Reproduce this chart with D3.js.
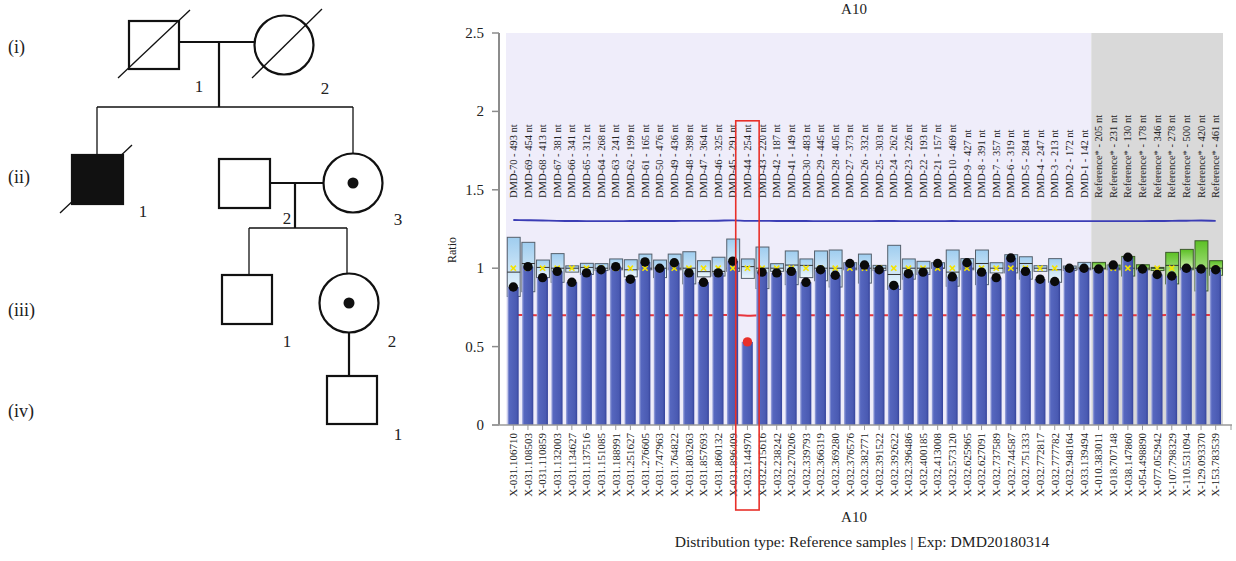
<!DOCTYPE html>
<html><head><meta charset="utf-8">
<script src="https://cdn.jsdelivr.net/npm/d3@7"></script>
<style>body{margin:0;background:#fff;} svg{display:block;font-family:"Liberation Serif","Times New Roman",serif;}</style>
</head><body><svg id="c" width="1236" height="561"></svg>
<script>
// ---------------- DATA ----------------
const probes = ["DMD-70 - 493 nt","DMD-69 - 454 nt","DMD-68 - 413 nt","DMD-67 - 381 nt","DMD-66 - 341 nt","DMD-65 - 312 nt","DMD-64 - 268 nt","DMD-63 - 241 nt","DMD-62 - 199 nt","DMD-61 - 165 nt","DMD-50 - 476 nt","DMD-49 - 436 nt","DMD-48 - 398 nt","DMD-47 - 364 nt","DMD-46 - 325 nt","DMD-45 - 291 nt","DMD-44 - 254 nt","DMD-43 - 220 nt","DMD-42 - 187 nt","DMD-41 - 149 nt","DMD-30 - 483 nt","DMD-29 - 445 nt","DMD-28 - 405 nt","DMD-27 - 373 nt","DMD-26 - 332 nt","DMD-25 - 303 nt","DMD-24 - 262 nt","DMD-23 - 226 nt","DMD-22 - 193 nt","DMD-21 - 157 nt","DMD-10 - 469 nt","DMD-9 - 427 nt","DMD-8 - 391 nt","DMD-7 - 357 nt","DMD-6 - 319 nt","DMD-5 - 284 nt","DMD-4 - 247 nt","DMD-3 - 213 nt","DMD-2 - 172 nt","DMD-1 - 142 nt","Reference* - 205 nt","Reference* - 231 nt","Reference* - 130 nt","Reference* - 178 nt","Reference* - 346 nt","Reference* - 278 nt","Reference* - 500 nt","Reference* - 420 nt","Reference* - 461 nt"];
const positions = ["X-031.106710","X-031.108503","X-031.110859","X-031.132003","X-031.134627","X-031.137516","X-031.151085","X-031.188991","X-031.251627","X-031.276605","X-031.747963","X-031.764822","X-031.803263","X-031.857693","X-031.860132","X-031.896409","X-032.144970","X-032.215616","X-032.238242","X-032.270206","X-032.339793","X-032.366319","X-032.369280","X-032.376576","X-032.382771","X-032.391522","X-032.392622","X-032.396486","X-032.400185","X-032.413008","X-032.573120","X-032.625965","X-032.627091","X-032.737589","X-032.744587","X-032.751333","X-032.772817","X-032.777782","X-032.948164","X-033.139494","X-010.383011","X-018.707148","X-038.147860","X-054.498890","X-077.052942","X-107.798329","X-110.531094","X-129.093370","X-153.783539"];
const ratios = [0.88,1.01,0.94,0.98,0.91,0.97,0.99,1.01,0.93,1.04,1.00,1.035,0.97,0.91,0.97,1.045,0.53,0.975,0.97,0.98,0.91,0.99,0.955,1.03,1.02,0.99,0.89,0.965,0.975,1.03,0.945,1.035,0.975,0.94,1.065,0.98,0.93,0.915,1.0,1.0,0.995,1.02,1.07,0.995,0.96,0.95,1.0,0.995,0.99];
const boxHigh = [1.197,1.165,1.052,1.093,1.015,1.031,1.029,1.059,1.054,1.09,1.052,1.09,1.105,1.048,1.07,1.186,1.059,1.135,1.029,1.11,1.059,1.11,1.116,1.035,1.09,1.018,1.146,1.059,1.044,1.035,1.116,1.061,1.116,1.035,1.086,1.073,1.016,1.061,1.014,1.037,1.037,1.02,1.075,1.022,1.005,1.101,1.12,1.175,1.048];
const boxLow = [0.82,0.85,0.94,0.91,0.975,0.96,0.985,0.99,0.945,0.99,0.94,0.99,0.90,0.945,0.95,0.98,0.935,0.87,0.98,0.895,0.94,0.92,0.88,0.99,0.905,0.985,0.865,0.93,0.96,1.0,0.885,0.99,0.895,0.97,0.97,0.93,0.98,0.91,0.985,0.99,0.995,0.99,0.95,0.99,0.985,0.90,0.99,0.855,0.955];
const boxMedian = [0.975,1.03,1.005,1.0,1.0,1.005,1.0,1.0,0.99,1.0,1.0,1.0,1.0,0.978,0.98,1.0,1.01,1.0,1.0,1.02,1.018,1.0,1.0,1.0,1.0,1.0,0.96,1.0,1.0,1.0,0.975,1.0,1.03,1.0,1.0,1.03,1.0,0.99,1.0,1.0,1.0,1.0,1.0,1.0,1.0,1.018,1.0,1.0,1.0];
const meanMark = [1,1,1,1,1,1,1,1,1,1,1,1,1,1,1,1,1,1,1,1,1,1,1,1,1,1,1,1,1,1,1,1,1,1,1,1,1,1,1,1,1,1,1,1,1,1,1,1,1];
const upperLimit = [1.307,1.306,1.304,1.302,1.301,1.300,1.300,1.300,1.301,1.301,1.301,1.301,1.302,1.302,1.303,1.305,1.302,1.302,1.301,1.301,1.301,1.300,1.300,1.300,1.300,1.301,1.301,1.300,1.300,1.300,1.301,1.300,1.300,1.300,1.300,1.300,1.300,1.300,1.300,1.300,1.300,1.300,1.300,1.300,1.301,1.302,1.303,1.304,1.302];
const lowerLimit = [0.701,0.701,0.700,0.700,0.700,0.700,0.700,0.700,0.700,0.700,0.700,0.700,0.700,0.700,0.701,0.702,0.697,0.700,0.700,0.700,0.700,0.700,0.700,0.700,0.700,0.700,0.700,0.700,0.700,0.700,0.700,0.700,0.700,0.700,0.700,0.700,0.700,0.700,0.700,0.700,0.700,0.700,0.700,0.700,0.700,0.702,0.703,0.702,0.701];
const yTicks = [0,0.5,1,1.5,2,2.5];
const highlightProbe = "DMD-44 - 254 nt";
const highlightTop = 1.94;

// pedigree
const genLabels = [["(i)",53],["(ii)",183],["(iii)",316],["(iv)",417]];

// ---------------- CHART ----------------
const svg = d3.select("#c");
const L = 506, R = 1223, T = 33, B = 425;
const x = d3.scaleBand().domain(positions).range([L, R]).paddingInner(0.2).paddingOuter(0.1);
const y = d3.scaleLinear().domain([0, 2.5]).range([B, T]);
const step = x.step(), bw = x.bandwidth();
const isRef = probes.map(p => p.startsWith("Reference"));
const firstRef = isRef.indexOf(true);
const data = positions.map((p, i) => ({p, i, probe: probes[i], v: ratios[i], hi: boxHigh[i], lo: boxLow[i], med: boxMedian[i], mean: meanMark[i], up: upperLimit[i], low: lowerLimit[i], ref: isRef[i]}));

const defs = svg.append("defs");
const gBar = defs.append("linearGradient").attr("id","gBar").attr("x1",0).attr("x2",1).attr("y1",0).attr("y2",0);
[["0%","#a3acdf"],["18%","#5667bf"],["80%","#4a5ab2"],["100%","#35439a"]].forEach(s=>gBar.append("stop").attr("offset",s[0]).attr("stop-color",s[1]));
const gBox = defs.append("linearGradient").attr("id","gBox").attr("x1",0).attr("x2",0).attr("y1",0).attr("y2",1);
[["0%","#9fcdef"],["100%","#eef7fd"]].forEach(s=>gBox.append("stop").attr("offset",s[0]).attr("stop-color",s[1]));
const gGreen = defs.append("linearGradient").attr("id","gGreen").attr("x1",0).attr("x2",0).attr("y1",0).attr("y2",1);
[["0%","#5cc025"],["100%","#d2f3b5"]].forEach(s=>gGreen.append("stop").attr("offset",s[0]).attr("stop-color",s[1]));

// backgrounds
const splitX = x(positions[firstRef]) - (step - bw)/2;
svg.append("rect").attr("x",L).attr("y",T).attr("width",splitX-L).attr("height",B-T).attr("fill","#efedfa");
svg.append("rect").attr("x",splitX).attr("y",T).attr("width",R-splitX).attr("height",B-T).attr("fill","#d9d9d9");

// top probe labels
svg.append("g").selectAll("text").data(data).join("text")
  .attr("transform", d => `translate(${x(d.p)+bw/2+3.6},${198}) rotate(-90)`)
  .attr("font-size","10.5px").attr("fill","#222").text(d => d.probe);

// lower limit (red) behind bars
const cx = d => x(d.p) + bw/2;
svg.append("path").datum(data).attr("fill","none").attr("stroke","#e8343c").attr("stroke-width",2)
  .attr("d", d3.line().x(cx).y(d => y(d.low)).curve(d3.curveMonotoneX));

// boxes (behind bars)
const boxW = bw + 1.2;
svg.append("g").selectAll("rect").data(data).join("rect")
  .attr("x", d => x(d.p) - 0.2).attr("width", boxW)
  .attr("y", d => y(d.hi)).attr("height", d => y(d.lo) - y(d.hi))
  .attr("fill", d => d.ref ? "url(#gGreen)" : "url(#gBox)")
  .attr("stroke", d => d.ref ? "#3d5a2c" : "#55606c").attr("stroke-width",1);
svg.append("g").selectAll("line").data(data).join("line")
  .attr("x1", d => x(d.p) - 0.2).attr("x2", d => x(d.p) - 0.2 + boxW)
  .attr("y1", d => y(d.med)).attr("y2", d => y(d.med)).attr("stroke","#333").attr("stroke-width",1);

// bars
svg.append("g").selectAll("rect").data(data).join("rect")
  .attr("x", d => x(d.p)).attr("width", bw - 0.5)
  .attr("y", d => y(d.v)).attr("height", d => B - y(d.v))
  .attr("fill","url(#gBar)");

// mean markers (yellow x)
svg.append("g").selectAll("path").data(data).join("path")
  .attr("d", d => { const c = cx(d), m = y(d.mean), s = 2.6; return `M${c-s},${m-s}L${c+s},${m+s}M${c-s},${m+s}L${c+s},${m-s}`; })
  .attr("stroke","#f4e400").attr("stroke-width",1.6);

// dots
svg.append("g").selectAll("circle").data(data).join("circle")
  .attr("cx", cx).attr("cy", d => y(d.v)).attr("r", 4.7)
  .attr("fill", d => d.probe === highlightProbe ? "#e8302a" : "#0a0a0a");

// upper limit (blue)
svg.append("path").datum(data).attr("fill","none").attr("stroke","#3b3db5").attr("stroke-width",1.9)
  .attr("d", d3.line().x(cx).y(d => y(d.up)).curve(d3.curveMonotoneX));

// y axis
const yAxis = svg.append("g");
yAxis.append("line").attr("x1",499).attr("x2",499).attr("y1",T).attr("y2",B).attr("stroke","#8c8c8c").attr("stroke-width",2);
yAxis.selectAll("line.t").data(yTicks).join("line").attr("class","t")
  .attr("x1",492).attr("x2",499).attr("y1",d=>y(d)).attr("y2",d=>y(d)).attr("stroke","#8c8c8c").attr("stroke-width",1.5);
yAxis.selectAll("text").data(yTicks).join("text")
  .attr("x",484).attr("y",d=>y(d)+5).attr("text-anchor","end").attr("font-size","15px").attr("fill","#222")
  .text(d => d3.format("")(d));
svg.append("text").attr("transform","translate(456,250) rotate(-90)").attr("text-anchor","middle")
  .attr("font-size","12px").attr("fill","#222").text("Ratio");

// x axis
const xAxis = svg.append("g");
xAxis.append("line").attr("x1",492).attr("x2",1232).attr("y1",B).attr("y2",B).attr("stroke","#9a9a9a").attr("stroke-width",1.5);
xAxis.selectAll("line.t").data(data).join("line").attr("class","t")
  .attr("x1",cx).attr("x2",cx).attr("y1",B).attr("y2",B+5).attr("stroke","#9a9a9a");
xAxis.append("line").attr("x1",1231).attr("x2",1231).attr("y1",B).attr("y2",B+5).attr("stroke","#9a9a9a");
xAxis.selectAll("text").data(data).join("text")
  .attr("transform", d => `translate(${cx(d)+3.8},${433}) rotate(-90)`)
  .attr("text-anchor","end").attr("font-size","11px").attr("fill","#222").text(d => d.p);

// titles
svg.append("text").attr("x",854).attr("y",14).attr("text-anchor","middle").attr("font-size","15px").attr("fill","#222").text("A10");
svg.append("text").attr("x",854).attr("y",522).attr("text-anchor","middle").attr("font-size","15px").attr("fill","#222").text("A10");
svg.append("text").attr("x",862).attr("y",547).attr("text-anchor","middle").attr("font-size","15.6px").attr("fill","#222").text("Distribution type: Reference samples | Exp: DMD20180314");

// highlight box
const hd = data.find(d => d.probe === highlightProbe);
svg.append("rect").attr("x", cx(hd) - step*0.8).attr("width", step*1.6)
  .attr("y", y(highlightTop)).attr("height", 510 - y(highlightTop))
  .attr("fill","none").attr("stroke","#e8302a").attr("stroke-width",1.6);

// ---------------- PEDIGREE ----------------
const ped = svg.append("g").attr("stroke","#111").attr("fill","none");
const thin = 1.3, thick = 2.2;
const lines = [
  [179,42,254,42,thick],[219,42,219,107,thick],[97,107,353,107,thin],[97,107,97,155,thin],[353,107,353,154,thin],
  [270,183,323.5,183,thick],[295,183,295,228,thick],[249,228,347,228,thin],[249,228,249,275,thin],[347,228,347,273.5,thin],
  [349,333,349,376,thick]
];
lines.forEach(l => ped.append("line").attr("x1",l[0]).attr("y1",l[1]).attr("x2",l[2]).attr("y2",l[3]).attr("stroke-width",l[4]));
const squares = [[129,21,50,48,false],[72,155,51,49,true],[219,159,51,49,false],[222,275,50,49,false],[327,376,50,48,false]];
squares.forEach(s => ped.append("rect").attr("x",s[0]).attr("y",s[1]).attr("width",s[2]).attr("height",s[3]).attr("stroke-width",thick).attr("fill", s[4] ? "#111" : "#fff"));
const circles = [[284,45,29.5,false],[353,183,29.5,true],[349,303,29.5,true]];
circles.forEach(c => {
  ped.append("circle").attr("cx",c[0]).attr("cy",c[1]).attr("r",c[2]).attr("stroke-width",thick).attr("fill","#fff");
  if (c[3]) ped.append("circle").attr("cx",c[0]).attr("cy",c[1]).attr("r",5.5).attr("fill","#111").attr("stroke","none");
});
// deceased slashes
[[118,78,190,10],[252,78,322,9],[60,213,132,145]].forEach(l => ped.append("line").attr("x1",l[0]).attr("y1",l[1]).attr("x2",l[2]).attr("y2",l[3]).attr("stroke-width",1.3));
const nums = [["1",199,92],["2",325,94],["1",143,217],["2",287,224],["3",398,225],["1",287,347],["2",392,347],["1",398,440]];
svg.append("g").selectAll("text").data(nums).join("text").attr("x",d=>d[1]).attr("y",d=>d[2]).attr("text-anchor","middle")
  .attr("font-size","17px").attr("fill","#222").text(d=>d[0]);
svg.append("g").selectAll("text").data(genLabels).join("text").attr("x",8).attr("y",d=>d[1])
  .attr("font-size","18px").attr("fill","#222").text(d=>d[0]);
</script></body></html>
